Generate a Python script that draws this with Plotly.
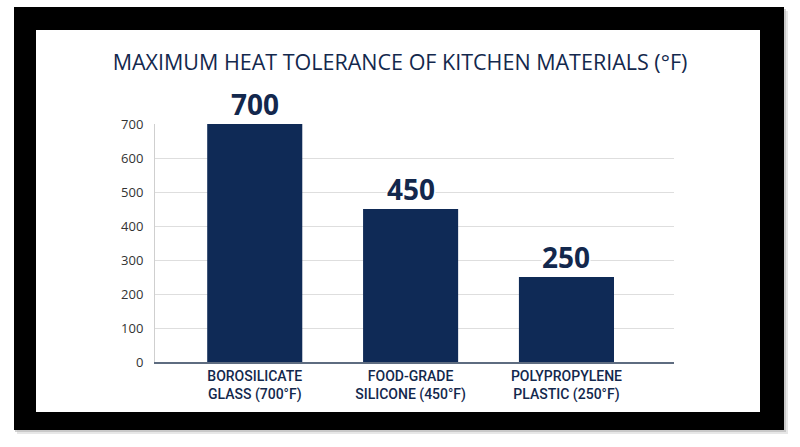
import plotly.graph_objects as go

# chart data
materials = [
    "BOROSILICATE<br>GLASS (700°F)",
    "FOOD-GRADE<br>SILICONE (450°F)",
    "POLYPROPYLENE<br>PLASTIC (250°F)",
]
max_temp_f = [700, 450, 250]
y_ticks = [0, 100, 200, 300, 400, 500, 600, 700]

NAVY = "#0f2a56"
TEXT_NAVY = "#13284d"

# plot area in pixels (800x447 page)
L, R, T, B = 155, 674, 124, 362
W, H = 800, 447


def px_x(v):
    return (v - L) / (R - L)


def px_y(v):
    return (B - v) / (B - T)


def frame_rect(x0, y0, x1, y1, color, opacity=1.0):
    return dict(
        type="rect", xref="paper", yref="paper", layer="below",
        x0=px_x(x0), x1=px_x(x1), y0=px_y(y1), y1=px_y(y0),
        fillcolor=color, opacity=opacity, line=dict(width=0),
    )


fig = go.Figure(go.Bar(
    x=list(range(len(materials))),
    y=max_temp_f,
    width=0.61,
    marker=dict(color=NAVY, line=dict(width=0)),
    hoverinfo="skip",
))

# value labels with white box so gridlines break behind them
for i, v in enumerate(max_temp_f):
    fig.add_annotation(
        x=i, y=v, text=f"<b>{v}</b>", showarrow=False,
        yanchor="bottom", yshift=0, bgcolor="white", borderpad=0,
        font=dict(family="Open Sans", size=28, color=TEXT_NAVY),
    )

shapes = [
    frame_rect(17, 11, 788, 434, "#cfcfcf", 0.5),
    frame_rect(15, 9, 786, 432, "#b5b5b5", 0.6),
    frame_rect(14, 7, 784, 430, "#000000"),
    frame_rect(36, 30, 760, 412, "#ffffff"),
]

fig.update_layout(
    width=W, height=H,
    title=dict(
        text="MAXIMUM HEAT TOLERANCE OF KITCHEN MATERIALS (°F)",
        x=0.5, xanchor="center", y=1 - 62 / H, yanchor="middle",
        font=dict(family="Open Sans", size=21.5, color=TEXT_NAVY),
    ),
    xaxis=dict(
        range=[-0.64, 2.69],
        tickmode="array", tickvals=list(range(len(materials))), ticktext=materials,
        tickfont=dict(family="Roboto", size=14, weight=500, color=TEXT_NAVY),
        showgrid=False, zeroline=False,
        showline=True, linecolor="#5e6c80", linewidth=1.5,
        ticks="", fixedrange=True,
    ),
    yaxis=dict(
        range=[0, 700],
        tickmode="array", tickvals=y_ticks,
        tickfont=dict(family="Open Sans", size=13, color="#333333"),
        showgrid=True, gridcolor="#dedede", gridwidth=1,
        zeroline=False, showline=True, linecolor="#cfcfcf", linewidth=1,
        ticks="", ticklabelstandoff=8, fixedrange=True,
    ),
    shapes=shapes,
    margin=dict(l=L, r=W - R, t=T, b=H - B, autoexpand=False),
    plot_bgcolor="rgba(0,0,0,0)",
    paper_bgcolor="white",
    showlegend=False,
)

# drop the default body margin so the figure sits at the page origin
fig.write_html(
    "out.html",
    config={"displayModeBar": False},
    post_script="document.body.style.margin='0';",
)
